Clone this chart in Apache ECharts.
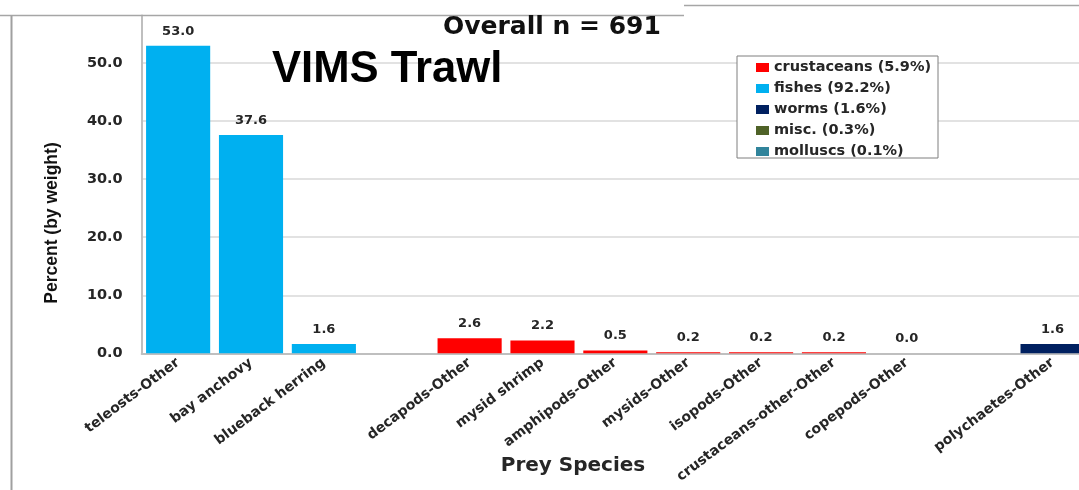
<!DOCTYPE html>
<html>
<head>
<meta charset="utf-8">
<script src="https://cdn.jsdelivr.net/npm/echarts@6/dist/echarts.min.js"></script>
<style>
  html, body { margin: 0; padding: 0; background: #fff; }
  #chart { width: 1079px; height: 490px; }
</style>
</head>
<body>
<div id="chart"></div>
<script>
// prey categories (the two blank slots are spacers between prey groups)
var categories = ['teleosts-Other', 'bay anchovy', 'blueback herring', ' ',
  'decapods-Other', 'mysid shrimp', 'amphipods-Other', 'mysids-Other',
  'isopods-Other', 'crustaceans-other-Other', 'copepods-Other', '  ',
  'polychaetes-Other'];

// percent by weight, one array per prey group
var crustaceans = ['-', '-', '-', '-', 2.6, 2.2, 0.5, 0.2, 0.2, 0.2, 0.0, '-', '-'];
var fishes = [53.0, 37.6, 1.6, '-', '-', '-', '-', '-', '-', '-', '-', '-', '-'];
var worms = ['-', '-', '-', '-', '-', '-', '-', '-', '-', '-', '-', '-', 1.6];
var misc = ['-', '-', '-', '-', '-', '-', '-', '-', '-', '-', '-', '-', '-'];
var molluscs = ['-', '-', '-', '-', '-', '-', '-', '-', '-', '-', '-', '-', '-'];

var groupNames = ['crustaceans', 'fishes', 'worms', 'misc.', 'molluscs'];
var groupShares = ['5.9', '92.2', '1.6', '0.3', '0.1'];
var groupColors = ['#ff0000', '#00b0f0', '#002060', '#4f6228', '#31849b'];
var groupData = [crustaceans, fishes, worms, misc, molluscs];

var yTicks = { min: 0, max: 58.2, interval: 10 };
var sampleSize = 691;

var font = 'DejaVu Sans';
var dark = '#262626';

var chart = echarts.init(document.getElementById('chart'));

var series = groupNames.map(function (name, i) {
  return {
    name: name,
    type: 'bar',
    stack: 'prey',
    barCategoryGap: '12%',
    itemStyle: { color: groupColors[i] },
    label: {
      show: true,
      position: 'top',
      distance: 8,
      fontFamily: font,
      fontWeight: 'bold',
      fontSize: 13,
      color: dark,
      formatter: function (p) { return Number(p.value).toFixed(1); }
    },
    data: groupData[i]
  };
});

chart.setOption({
  animation: false,
  grid: {
    left: 141.7,
    right: -10,
    top: 15.5,
    bottom: 136.7,
    containLabel: false,
    outerBoundsMode: 'none'
  },
  legend: {
    orient: 'vertical',
    left: 756,
    top: 60,
    z: 5,
    padding: 0,
    icon: 'rect',
    itemWidth: 13,
    itemHeight: 9,
    itemGap: 6,
    formatter: function (name) {
      return name + ' (' + groupShares[groupNames.indexOf(name)] + '%)';
    },
    textStyle: {
      fontFamily: font,
      fontWeight: 'bold',
      fontSize: 14.5,
      lineHeight: 14,
      color: dark
    },
    data: groupNames
  },
  xAxis: {
    type: 'category',
    data: categories,
    axisLine: { lineStyle: { color: '#bfbfbf', width: 2 } },
    axisTick: { show: false },
    axisLabel: {
      interval: 0,
      rotate: 37,
      margin: 8,
      fontFamily: font,
      fontWeight: 'bold',
      fontSize: 14,
      color: dark
    }
  },
  yAxis: {
    type: 'value',
    min: yTicks.min,
    max: yTicks.max,
    interval: yTicks.interval,
    axisLine: { show: true, lineStyle: { color: '#bfbfbf', width: 2 } },
    axisTick: { show: false },
    axisLabel: {
      showMaxLabel: false,
      margin: 19,
      fontFamily: font,
      fontWeight: 'bold',
      fontSize: 14.5,
      color: dark,
      formatter: function (v) { return v.toFixed(1); }
    },
    splitLine: { showMaxLine: false, lineStyle: { color: '#d9d9d9', width: 1.5 } }
  },
  graphic: [
    // slide frame bits around the chart
    { type: 'line', z: 1, shape: { x1: 0, y1: 15.5, x2: 684, y2: 15.5 }, style: { stroke: '#a6a6a6', lineWidth: 1.5 } },
    { type: 'line', z: 1, shape: { x1: 684, y1: 5.5, x2: 1079, y2: 5.5 }, style: { stroke: '#a6a6a6', lineWidth: 1.5 } },
    { type: 'line', z: 1, shape: { x1: 11.5, y1: 15.5, x2: 11.5, y2: 490 }, style: { stroke: '#a0a0a0', lineWidth: 2 } },
    // legend box
    { type: 'rect', z: 3, shape: { x: 737, y: 56, width: 201, height: 102 }, style: { fill: '#fff', stroke: '#7f7f7f', lineWidth: 1 } },
    {
      type: 'text', z: 6, x: 443, y: 27,
      style: { text: 'Overall n = ' + sampleSize, font: 'bold 25px "DejaVu Sans"', fill: '#111', textVerticalAlign: 'middle' }
    },
    {
      type: 'text', z: 6, x: 272, y: 70, scaleX: 0.97,
      style: {
        text: 'VIMS Trawl', font: 'bold 45px "Liberation Sans"', fill: '#000', textVerticalAlign: 'middle',
        shadowColor: 'rgba(0,0,0,0.55)', shadowBlur: 4, shadowOffsetX: 3, shadowOffsetY: 3
      }
    },
    {
      type: 'text', z: 6, x: 52, y: 223, rotation: Math.PI / 2,
      style: { text: 'Percent (by weight)', font: 'bold 17.5px "Liberation Sans"', fill: '#111', textAlign: 'center', textVerticalAlign: 'middle' }
    },
    {
      type: 'text', z: 6, x: 573, y: 466,
      style: { text: 'Prey Species', font: 'bold 20px "DejaVu Sans"', fill: dark, textAlign: 'center', textVerticalAlign: 'middle' }
    }
  ],
  series: series
});
</script>
</body>
</html>
